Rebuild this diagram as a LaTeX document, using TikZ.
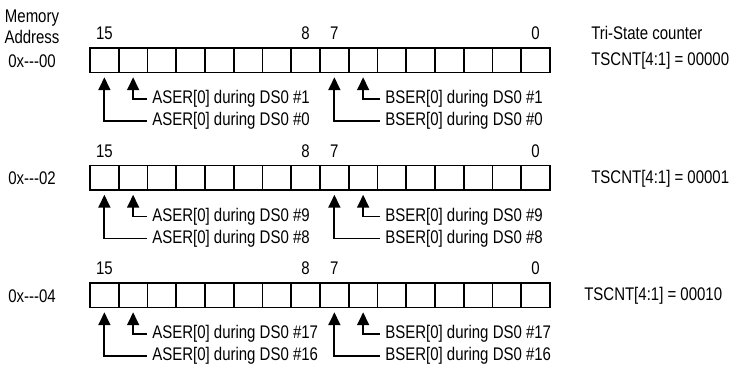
\documentclass[tikz,border=0pt]{standalone}
\usepackage{fontspec}
\setmainfont{Liberation Sans}[FakeStretch=0.82,Ligatures=TeXOff]
\usetikzlibrary{arrows.meta,positioning,calc}
\newcommand{\regfont}{\fontsize{13}{15}\selectfont}
\tikzset{
  bitcell/.style={draw,line width=1.3pt,minimum width=0.71875cm,minimum height=0.61cm,
    inner sep=0pt,outer sep=0pt},
  bitnum/.style={font=\regfont,inner sep=0pt},
  sidelabel/.style={font=\regfont,anchor=west,inner sep=0pt},
  serlabel/.style={font=\regfont,anchor=west,inner sep=0pt},
  serarrow/.style={-{Triangle[length=9pt,width=8.5pt]},line width=1.3pt,
    shorten <=3.5pt,shorten >=3.5pt}
}

\begin{document}
\begin{tikzpicture}[x=0.025cm,y=-0.025cm]
  \useasboundingbox (0,0) rectangle (737,368);

  \node[font=\regfont,align=center,inner sep=0pt] (memhead) at (32,27) {Memory\\Address};
  \node[sidelabel] (cnthead) at (591,33) {Tri-State counter};

  \foreach \r/\addr/\cnt/\cx/\na/\nb/\dy in {0/00/00000/591/1/0/0, 1/02/00001/591/9/8/117.5,
      2/04/00010/584/17/16/235} {
    % the 16 bit cells, bit 15 on the left
    \foreach \b in {0,...,15}
      \node[bitcell] (c\r-\b) at ({90+28.75*(15.5-\b)},{60.25+\dy}) {};
    \foreach \b in {15,8,7,0}
      \node[bitnum,above=0.2cm of c\r-\b] (n\r-\b) {\b};

    \node[sidelabel] (addr\r) at (8,{61+\dy}) {0x---\addr};
    \node[sidelabel] (cnt\r) at (\cx,{61+\dy}) {TSCNT[4:1] = \cnt};

    \node[serlabel] (ain\r) at (152,{99+\dy}) {ASER[0] during DS0 \#\na};
    \node[serlabel] (aout\r) at (152,{121+\dy}) {ASER[0] during DS0 \#\nb};
    \node[serlabel] (bin\r) at (385,{99+\dy}) {BSER[0] during DS0 \#\na};
    \node[serlabel] (bout\r) at (385,{121+\dy}) {BSER[0] during DS0 \#\nb};

    \draw[serarrow] (ain\r.west) -| (c\r-14.south);
    \draw[serarrow] (aout\r.west) -| (c\r-15.south);
    \draw[serarrow] (bin\r.west) -| (c\r-6.south);
    \draw[serarrow] (bout\r.west) -| (c\r-7.south);
  }
\end{tikzpicture}
\end{document}
